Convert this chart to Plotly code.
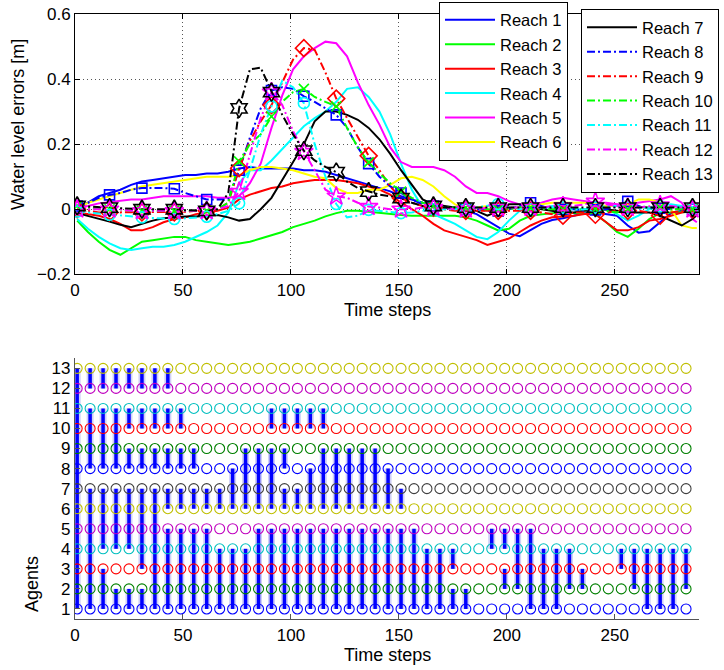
import plotly.graph_objects as go

# ---------------- data: top panel (water level errors) ----------------
T = [1, 6, 11, 16, 21, 26, 31, 36, 41, 46,
     51, 56, 61, 66, 71, 76, 81, 86, 91, 96,
     101, 106, 111, 116, 121, 126, 131, 136, 141, 146,
     151, 156, 161, 166, 171, 176, 181, 186, 191, 196,
     201, 206, 211, 216, 221, 226, 231, 236, 241, 246,
     251, 256, 261, 266, 271, 276, 281, 286, 288]

reach1 = [0.01, 0.02, 0.04, 0.05, 0.06, 0.075, 0.085, 0.09, 0.095, 0.10,
          0.105, 0.105, 0.11, 0.11, 0.115, 0.125, 0.13, 0.125, 0.125, 0.125,
          0.125, 0.12, 0.12, 0.115, 0.105, 0.095, 0.085, 0.075, 0.065, 0.055,
          0.04, 0.03, 0.02, 0.01, 0.005, 0.0, -0.005, -0.015, -0.035, -0.055,
          -0.075, -0.083, -0.065, -0.045, -0.033, -0.028, -0.02, -0.012, -0.01, -0.015,
          -0.02, -0.05, -0.072, -0.068, -0.04, -0.012, -0.005, 0.0, 0.0]
reach2 = [-0.035, -0.07, -0.1, -0.125, -0.14, -0.12, -0.1, -0.095, -0.09, -0.085,
          -0.085, -0.095, -0.1, -0.105, -0.11, -0.105, -0.1, -0.09, -0.08, -0.07,
          -0.055, -0.045, -0.035, -0.022, -0.012, -0.005, -0.005, -0.008, -0.012, -0.015,
          -0.018, -0.02, -0.02, -0.02, -0.02, -0.02, -0.025, -0.035, -0.05, -0.065,
          -0.06, -0.035, -0.02, -0.015, -0.012, -0.01, -0.012, -0.015, -0.015, -0.04,
          -0.07, -0.085, -0.06, -0.03, -0.012, -0.01, -0.01, -0.008, -0.008]
reach3 = [-0.01, -0.015, -0.02, -0.03, -0.045, -0.065, -0.065, -0.055, -0.04, -0.03,
          -0.025, -0.015, -0.01, -0.005, 0.005, 0.03, 0.045, 0.055, 0.065, 0.07,
          0.08, 0.085, 0.09, 0.09, 0.09, 0.085, 0.08, 0.07, 0.06, 0.045,
          0.02, 0.0, -0.02, -0.045, -0.065, -0.075, -0.085, -0.095, -0.11, -0.1,
          -0.09, -0.07, -0.05, -0.035, -0.025, -0.022, -0.02, -0.015, -0.015, -0.04,
          -0.065, -0.065, -0.055, -0.035, -0.03, -0.02, -0.01, -0.005, 0.0]
reach4 = [-0.03, -0.06, -0.085, -0.105, -0.12, -0.125, -0.12, -0.115, -0.115, -0.11,
          -0.1, -0.085, -0.07, -0.05, -0.01, 0.08, 0.12, 0.12, 0.15, 0.185,
          0.22, 0.255, 0.28, 0.30, 0.33, 0.37, 0.375, 0.345, 0.30, 0.23,
          0.14, 0.06, 0.005, -0.015, -0.03, -0.045, -0.065, -0.085, -0.092, -0.07,
          -0.035, -0.005, 0.0, 0.005, 0.005, 0.0, 0.0, 0.0, 0.005, 0.0,
          -0.015, -0.035, -0.02, 0.0, 0.01, 0.015, 0.01, 0.005, 0.005]
reach5 = [0.005, 0.01, 0.018, 0.022, 0.025, 0.03, 0.03, 0.035, 0.04, 0.04,
          0.04, 0.04, 0.04, 0.035, 0.035, 0.04, 0.08, 0.14, 0.25, 0.35,
          0.43, 0.47, 0.495, 0.515, 0.51, 0.47, 0.39, 0.32, 0.26, 0.19,
          0.145, 0.13, 0.13, 0.13, 0.12, 0.10, 0.07, 0.05, 0.05, 0.04,
          0.025, 0.015, 0.015, 0.02, 0.03, 0.035, 0.03, 0.025, 0.02, 0.02,
          0.015, 0.015, 0.02, 0.025, 0.03, 0.04, 0.02, -0.03, -0.04]
reach6 = [0.0, 0.02, 0.03, 0.04, 0.05, 0.06, 0.07, 0.075, 0.08, 0.085,
          0.09, 0.095, 0.1, 0.1, 0.1, 0.105, 0.12, 0.13, 0.13, 0.125,
          0.12, 0.11, 0.1, 0.095, 0.065, 0.05, 0.05, 0.06, 0.06, 0.075,
          0.095, 0.1, 0.09, 0.07, 0.04, 0.015, 0.0, 0.005, 0.01, 0.005,
          0.0, 0.005, 0.01, 0.015, 0.02, 0.02, 0.02, 0.02, 0.015, 0.01,
          0.01, 0.015, 0.03, 0.03, 0.02, 0.0, -0.05, -0.058, -0.058]
reach7 = [-0.012, -0.02, -0.03, -0.038, -0.048, -0.055, -0.045, -0.035, -0.028, -0.025,
          -0.022, -0.022, -0.02, -0.018, -0.025, -0.035, -0.03, 0.0, 0.035, 0.09,
          0.145, 0.2, 0.27, 0.30, 0.30, 0.29, 0.275, 0.25, 0.215, 0.17,
          0.12, 0.075, 0.03, 0.015, 0.01, 0.005, 0.0, -0.005, -0.02, -0.005,
          0.015, 0.015, 0.005, 0.0, -0.005, -0.01, -0.01, -0.005, -0.005, 0.0,
          -0.005, -0.01, -0.01, -0.01, -0.02, -0.035, -0.05, -0.03, -0.018]
reach8 = [0.01, 0.02, 0.035, 0.044, 0.05, 0.06, 0.065, 0.066, 0.065, 0.063,
          0.05, 0.04, 0.03, 0.03, 0.03, 0.12, 0.22, 0.31, 0.365, 0.375,
          0.37, 0.347, 0.33, 0.31, 0.29, 0.25, 0.19, 0.14, 0.1, 0.07,
          0.05, 0.03, 0.015, 0.01, 0.005, 0.0, 0.0, 0.0, -0.005, -0.005,
          0.0, 0.01, 0.02, 0.01, 0.0, 0.0, 0.0, -0.005, -0.002, 0.0,
          0.01, 0.024, 0.01, 0.005, 0.003, 0.0, 0.0, 0.0, 0.0]
reach9 = [0.0, -0.005, -0.01, -0.01, -0.01, -0.01, -0.01, -0.01, -0.01, -0.01,
          -0.008, -0.005, -0.005, 0.0, 0.02, 0.126, 0.21, 0.27, 0.32, 0.39,
          0.46, 0.495, 0.49, 0.42, 0.34, 0.28, 0.22, 0.164, 0.12, 0.07,
          0.034, 0.02, 0.01, 0.005, 0.0, -0.005, -0.005, -0.005, -0.005, -0.005,
          -0.005, -0.005, -0.005, -0.01, -0.015, -0.02, -0.01, -0.01, -0.017, -0.01,
          -0.005, -0.005, -0.005, -0.01, -0.02, -0.01, -0.005, 0.0, 0.0]
reach10 = [0.01, 0.005, 0.0, 0.0, 0.0, -0.005, -0.005, -0.005, -0.005, -0.005,
           -0.005, -0.005, -0.005, 0.0, 0.02, 0.147, 0.2, 0.23, 0.285, 0.33,
           0.36, 0.37, 0.345, 0.33, 0.316, 0.25, 0.19, 0.144, 0.11, 0.08,
           0.054, 0.035, 0.02, 0.01, 0.005, 0.005, 0.005, 0.0, 0.0, 0.0,
           0.0, 0.005, 0.005, 0.0, 0.0, 0.0, 0.0, 0.0, 0.0, -0.005,
           -0.01, 0.0, 0.005, 0.005, 0.005, 0.0, 0.0, 0.0, 0.0]
reach11 = [-0.007, -0.01, -0.015, -0.017, -0.02, -0.022, -0.025, -0.027, -0.028, -0.03,
           -0.028, -0.025, -0.023, -0.015, -0.005, 0.018, 0.12, 0.23, 0.316, 0.395,
           0.375, 0.326, 0.2, 0.1, 0.016, -0.025, -0.02, -0.002, -0.005, -0.01,
           -0.012, -0.01, -0.005, 0.0, 0.0, 0.0, 0.0, 0.005, 0.01, 0.016,
           0.005, 0.0, 0.0, 0.005, 0.01, 0.005, 0.0, 0.0, 0.005, 0.01,
           0.01, 0.005, 0.0, 0.005, 0.01, 0.01, 0.005, 0.0, 0.0]
reach12 = [0.0, 0.0, 0.0, 0.0, 0.0, -0.005, -0.005, -0.005, -0.005, -0.005,
           -0.005, -0.005, -0.005, 0.0, 0.01, 0.054, 0.17, 0.28, 0.36, 0.32,
           0.24, 0.177, 0.12, 0.06, 0.04, 0.035, 0.02, 0.008, 0.005, 0.0,
           0.0, 0.0, 0.005, 0.005, 0.005, 0.0, 0.0, 0.0, 0.005, 0.005,
           0.005, 0.005, 0.005, 0.005, 0.01, 0.01, 0.01, 0.015, 0.024, 0.015,
           0.01, 0.005, 0.005, 0.01, 0.013, 0.01, 0.005, 0.0, 0.0]
reach13 = [0.01, 0.008, 0.006, 0.005, 0.003, 0.0, 0.0, 0.0, 0.0, 0.0,
           -0.003, -0.005, -0.005, 0.0, 0.05, 0.31, 0.43, 0.435, 0.36, 0.29,
           0.23, 0.18, 0.15, 0.13, 0.114, 0.085, 0.065, 0.054, 0.045, 0.04,
           0.034, 0.02, 0.01, 0.01, 0.005, 0.005, 0.005, 0.005, 0.005, 0.005,
           0.005, 0.005, 0.005, 0.005, 0.005, 0.005, 0.005, 0.005, 0.005, 0.005,
           0.005, 0.005, 0.005, 0.005, 0.005, 0.005, 0.005, 0.005, 0.005]

reach_names = ["Reach %d" % i for i in range(1, 14)]
reach_values = [reach1, reach2, reach3, reach4, reach5, reach6, reach7,
                reach8, reach9, reach10, reach11, reach12, reach13]

# ---------------- data: bottom panel (agent communication) ----------------
agent_times = [1, 7, 13, 19, 25, 31, 37, 43, 49, 55,
               61, 67, 73, 79, 85, 91, 97, 103, 109, 115,
               121, 127, 133, 139, 145, 151, 157, 163, 169, 175,
               181, 187, 193, 199, 205, 211, 217, 223, 229, 235,
               241, 247, 253, 259, 265, 271, 277, 283]
agents = list(range(1, 14))
# links: (column index into agent_times, lowest agent, highest agent)
links = [
    (0, 1, 13),
    (1, 12, 13), (1, 8, 11), (1, 1, 7),
    (2, 12, 13), (2, 8, 11), (2, 4, 7), (2, 1, 3),
    (3, 12, 13), (3, 8, 11), (3, 4, 7), (3, 1, 2),
    (4, 12, 13), (4, 10, 11), (4, 8, 9), (4, 4, 7), (4, 1, 2),
    (5, 12, 13), (5, 10, 11), (5, 8, 9), (5, 3, 7), (5, 1, 2),
    (6, 12, 13), (6, 10, 11), (6, 8, 9), (6, 1, 7),
    (7, 12, 13), (7, 10, 11), (7, 8, 9), (7, 6, 7), (7, 1, 5),
    (8, 10, 11), (8, 8, 9), (8, 6, 7), (8, 1, 5),
    (9, 8, 9), (9, 6, 7), (9, 1, 5),
    (10, 6, 7), (10, 1, 5),
    (11, 6, 7), (11, 1, 4),
    (12, 6, 8), (12, 1, 4),
    (13, 6, 9), (13, 1, 4),
    (14, 6, 9), (14, 1, 5),
    (15, 10, 11), (15, 6, 9), (15, 1, 5),
    (16, 10, 11), (16, 8, 9), (16, 6, 7), (16, 1, 5),
    (17, 10, 11), (17, 6, 7), (17, 1, 5),
    (18, 10, 11), (18, 6, 8), (18, 1, 5),
    (19, 10, 11), (19, 6, 9), (19, 1, 5),
    (20, 6, 9), (20, 1, 5),
    (21, 6, 9), (21, 1, 5),
    (22, 6, 9), (22, 1, 5),
    (23, 6, 9), (23, 1, 5),
    (24, 6, 8), (24, 1, 5),
    (25, 6, 7), (25, 1, 5),
    (26, 1, 5),
    (27, 1, 4),
    (28, 1, 4),
    (29, 3, 4), (29, 1, 2),
    (30, 1, 2),
    (32, 4, 5),
    (33, 4, 5), (33, 2, 3),
    (34, 2, 5),
    (35, 1, 5),
    (36, 1, 4),
    (37, 1, 4),
    (38, 2, 4),
    (39, 2, 3),
    (42, 3, 4),
    (43, 2, 4),
    (44, 1, 4),
    (45, 1, 4),
    (46, 1, 4),
    (47, 2, 4),
]

# ---------------- styles ----------------
W, H = 724, 670
FONT = "Liberation Sans, Arial, Helvetica, sans-serif"
line_colors = ["#0000ff", "#00ff00", "#ff0000", "#00ffff", "#ff00ff", "#ffff00", "#000000",
               "#0000ff", "#ff0000", "#00ff00", "#00ffff", "#ff00ff", "#000000"]
marker_symbols = ["square-open", "diamond-open", "x-thin-open", "circle-open",
                  "star-open", "hexagram-open"]
marker_sizes = [10, 13, 10, 11, 14, 14]
agent_colors = ["#0000ff", "#008000", "#ff0000", "#00bfbf", "#bf00bf", "#bfbf00", "#404040",
                "#0000ff", "#008000", "#ff0000", "#00bfbf", "#bf00bf", "#bfbf00"]
DASHDOT = "8px,3px,2px,3px"


def px_y(Y):
    """screen row (px from top) -> paper fraction"""
    return 1 - Y / H


fig = go.Figure()

for i in range(13):
    fig.add_trace(go.Scatter(
        x=T, y=reach_values[i], mode="lines", name=reach_names[i],
        line=dict(color=line_colors[i], width=2,
                  dash="solid" if i < 7 else DASHDOT),
        legend="legend" if i < 6 else "legend2",
        xaxis="x", yaxis="y"))

for k in range(6):
    i = 7 + k
    fig.add_trace(go.Scatter(
        x=T[::3], y=reach_values[i][::3], mode="markers", showlegend=False,
        marker=dict(symbol=marker_symbols[k], size=marker_sizes[k],
                    color=line_colors[i],
                    line=dict(color=line_colors[i], width=1.6)),
        xaxis="x", yaxis="y"))

lx, ly = [], []
for c, lo, hi in links:
    lx += [agent_times[c], agent_times[c], None]
    ly += [lo, hi, None]
fig.add_trace(go.Scatter(x=lx, y=ly, mode="lines", showlegend=False,
                         line=dict(color="#cfcff7", width=7),
                         xaxis="x2", yaxis="y2"))
fig.add_trace(go.Scatter(x=lx, y=ly, mode="lines", showlegend=False,
                         line=dict(color="#0000ff", width=3.5),
                         xaxis="x2", yaxis="y2"))

for a in agents:
    fig.add_trace(go.Scatter(
        x=agent_times, y=[a] * len(agent_times), mode="markers", showlegend=False,
        marker=dict(symbol="circle-open", size=10,
                    color=agent_colors[a - 1], line=dict(width=1.1, color=agent_colors[a - 1])),
        xaxis="x2", yaxis="y2"))

xdom = [75 / W, 699 / W]
top_dom = [px_y(274.3), px_y(14)]
bot_dom = [px_y(619), px_y(358.3)]
tickfont = dict(family=FONT, size=17, color="black")
labelfont = dict(family=FONT, size=18, color="black")
GRID = dict(showgrid=True, gridcolor="#555555", griddash="1px,3px", gridwidth=1)
COMMON = dict(automargin=False, ticklabeloverflow="allow", zeroline=False, tickfont=tickfont)

fig.update_layout(
    template="none",
    width=W, height=H,
    margin=dict(l=0, r=0, t=0, b=0, pad=0, autoexpand=False),
    paper_bgcolor="white", plot_bgcolor="white",
    font=dict(family=FONT, size=17, color="black"),
    xaxis=dict(domain=xdom, anchor="y", range=[0, 289],
               tickvals=[0, 50, 100, 150, 200, 250],
               ticks="inside", ticklen=5, tickcolor="black",
               showline=True, linecolor="black", linewidth=1, mirror="ticks",
               **GRID, **COMMON),
    yaxis=dict(domain=top_dom, anchor="x", range=[-0.2, 0.6],
               tickvals=[-0.2, 0, 0.2, 0.4, 0.6],
               ticktext=["\u22120.2", "0", "0.2", "0.4", "0.6"],
               ticks="inside", ticklen=5, tickcolor="black",
               showline=True, linecolor="black", linewidth=1, mirror="ticks",
               **GRID, **COMMON),
    xaxis2=dict(domain=xdom, anchor="y2", range=[0, 289],
                tickvals=[0, 50, 100, 150, 200, 250],
                ticks="inside", ticklen=5, tickcolor="#555555",
                showline=True, linecolor="#555555", linewidth=1.2, mirror=False,
                showgrid=False, **COMMON),
    yaxis2=dict(domain=bot_dom, anchor="x2", range=[0.5, 13.5],
                tickvals=agents,
                ticks="inside", ticklen=5, tickcolor="#555555",
                showline=True, linecolor="#555555", linewidth=1.2, mirror=False,
                showgrid=False, **COMMON),
    legend=dict(x=439 / W, y=px_y(1.5), xanchor="left", yanchor="top",
                bgcolor="white", bordercolor="black", borderwidth=1,
                font=dict(family=FONT, size=16.5, color="black"),
                itemwidth=50, tracegroupgap=0,
                entrywidth=79, entrywidthmode="pixels"),
    legend2=dict(x=581 / W, y=px_y(9), xanchor="left", yanchor="top",
                 bgcolor="white", bordercolor="black", borderwidth=1,
                 font=dict(family=FONT, size=16.5, color="black"),
                 itemwidth=50, tracegroupgap=0,
                 entrywidth=82, entrywidthmode="pixels"),
    annotations=[
        dict(text="Time steps", x=387 / W, y=px_y(310), xref="paper", yref="paper",
             showarrow=False, xanchor="center", yanchor="middle", font=labelfont),
        dict(text="Water level errors [m]", x=18 / W, y=px_y(125), xref="paper", yref="paper",
             showarrow=False, xanchor="center", yanchor="middle", textangle=-90,
             font=labelfont),
        dict(text="Time steps", x=387 / W, y=px_y(655), xref="paper", yref="paper",
             showarrow=False, xanchor="center", yanchor="middle", font=labelfont),
        dict(text="Agents", x=32 / W, y=px_y(584), xref="paper", yref="paper",
             showarrow=False, xanchor="center", yanchor="middle", textangle=-90,
             font=labelfont),
    ],
)

POST = ("document.documentElement.style.margin='0';"
        "document.body.style.margin='0';document.body.style.padding='0';")
fig.write_html("out.html", post_script=POST, config={"displayModeBar": False})
